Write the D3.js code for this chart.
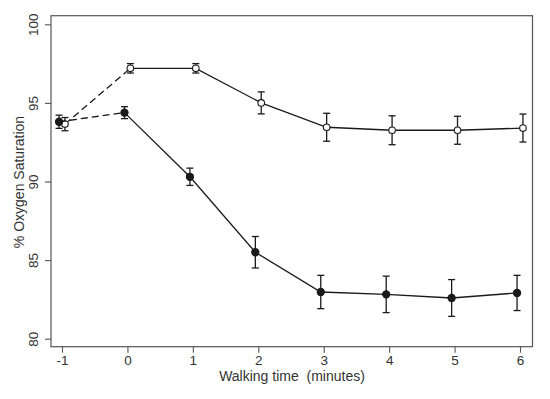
<!DOCTYPE html>
<html>
<head>
<meta charset="utf-8">
<script src="https://cdn.jsdelivr.net/npm/d3@7"></script>
<style>
  body { margin: 0; background: #fff; }
  svg { display: block; }
  text { font-family: "Liberation Sans", Arial, sans-serif; fill: #333; }
</style>
</head>
<body>
<div id="chart"></div>
<script>
// walking time (minutes)
const times = [-1, 0, 1, 2, 3, 4, 5, 6];
// open circles
const openMean = [93.65, 97.2, 97.2, 95.0, 93.45, 93.26, 93.26, 93.4];
const openErr  = [0.42, 0.3, 0.3, 0.7, 0.89, 0.92, 0.89, 0.89];
// filled circles
const filledMean = [93.8, 94.38, 90.3, 85.5, 82.97, 82.82, 82.59, 82.91];
const filledErr  = [0.42, 0.38, 0.55, 1.0, 1.06, 1.16, 1.17, 1.12];

const xTicks = [-1, 0, 1, 2, 3, 4, 5, 6];
const yTicks = [80, 85, 90, 95, 100];

const width = 550;
const height = 399;
const frame = { left: 51, right: 532.5, top: 15.7, bottom: 346.7 };

const svg = d3.select('#chart')
  .append('svg')
  .attr('width', width)
  .attr('height', height);

const xScale = d3.scaleLinear().domain([-1, 6]).range([62, 520]);
const yScale = d3.scaleLinear().domain([80, 100]).range([338.7, 24.3]);

// plot frame
svg.append('rect')
  .attr('x', frame.left)
  .attr('y', frame.top)
  .attr('width', frame.right - frame.left)
  .attr('height', frame.bottom - frame.top)
  .attr('fill', 'none')
  .attr('stroke', '#555')
  .attr('stroke-width', 1.2);

const xAxis = d3.axisBottom(xScale)
  .tickValues(xTicks)
  .tickFormat(d => String(d))
  .tickSize(6)
  .tickSizeOuter(0)
  .tickPadding(3);

const gx = svg.append('g')
  .attr('transform', `translate(0, ${frame.bottom})`)
  .call(xAxis);
gx.select('.domain').remove();
gx.selectAll('line').attr('stroke', '#555').attr('stroke-width', 1.1);
gx.selectAll('text')
  .style('font-size', '13.5px')
  .attr('fill', '#333');

const yAxis = d3.axisLeft(yScale)
  .tickValues(yTicks)
  .tickSize(6)
  .tickSizeOuter(0);

const gy = svg.append('g')
  .attr('transform', `translate(${frame.left}, 0)`)
  .call(yAxis);
gy.select('.domain').remove();
gy.selectAll('line').attr('stroke', '#555').attr('stroke-width', 1.1);
gy.selectAll('text')
  .attr('x', 0)
  .attr('y', 0)
  .attr('dy', null)
  .attr('text-anchor', 'middle')
  .attr('dominant-baseline', 'central')
  .attr('transform', 'translate(-18, 0) rotate(-90)')
  .style('font-size', '13.5px')
  .attr('fill', '#333');

// axis titles
svg.append('text')
  .attr('x', 292)
  .attr('y', 381)
  .attr('text-anchor', 'middle')
  .style('font-size', '14px')
  .style('white-space', 'pre')
  .attr('xml:space', 'preserve')
  .text('Walking time  (minutes)');

svg.append('text')
  .attr('transform', 'translate(24, 182) rotate(-90)')
  .attr('text-anchor', 'middle')
  .style('font-size', '14px')
  .text('% Oxygen Saturation');

// series drawing
const dodge = 0.045;
const ink = '#1a1a1a';

function drawSeries(means, errs, shift, filled) {
  const pts = times.map((t, i) => ({ t: t + shift, m: means[i], e: errs[i] }));
  const line = d3.line().x(d => xScale(d.t)).y(d => yScale(d.m));

  // dashed segment from baseline (-1) to 0
  svg.append('path')
    .attr('d', line(pts.slice(0, 2)))
    .attr('fill', 'none')
    .attr('stroke', ink)
    .attr('stroke-width', 1.3)
    .attr('stroke-dasharray', '7,4');

  // solid segment from 0 onward
  svg.append('path')
    .attr('d', line(pts.slice(1)))
    .attr('fill', 'none')
    .attr('stroke', ink)
    .attr('stroke-width', 1.3);

  const g = svg.append('g');
  const eb = g.selectAll('.eb')
    .data(pts)
    .enter()
    .append('g');
  eb.append('line')
    .attr('x1', d => xScale(d.t)).attr('x2', d => xScale(d.t))
    .attr('y1', d => yScale(d.m - d.e)).attr('y2', d => yScale(d.m + d.e))
    .attr('stroke', ink).attr('stroke-width', 1.3);
  eb.append('line')
    .attr('x1', d => xScale(d.t) - 3.5).attr('x2', d => xScale(d.t) + 3.5)
    .attr('y1', d => yScale(d.m + d.e)).attr('y2', d => yScale(d.m + d.e))
    .attr('stroke', ink).attr('stroke-width', 1.3);
  eb.append('line')
    .attr('x1', d => xScale(d.t) - 3.5).attr('x2', d => xScale(d.t) + 3.5)
    .attr('y1', d => yScale(d.m - d.e)).attr('y2', d => yScale(d.m - d.e))
    .attr('stroke', ink).attr('stroke-width', 1.3);

  g.selectAll('.dot')
    .data(pts)
    .enter()
    .append('circle')
    .attr('cx', d => xScale(d.t))
    .attr('cy', d => yScale(d.m))
    .attr('r', filled ? 3.6 : 3.3)
    .attr('fill', filled ? ink : '#fff')
    .attr('stroke', ink)
    .attr('stroke-width', 1.1);
}

drawSeries(openMean, openErr, dodge, false);
drawSeries(filledMean, filledErr, -dodge, true);
</script>
</body>
</html>
